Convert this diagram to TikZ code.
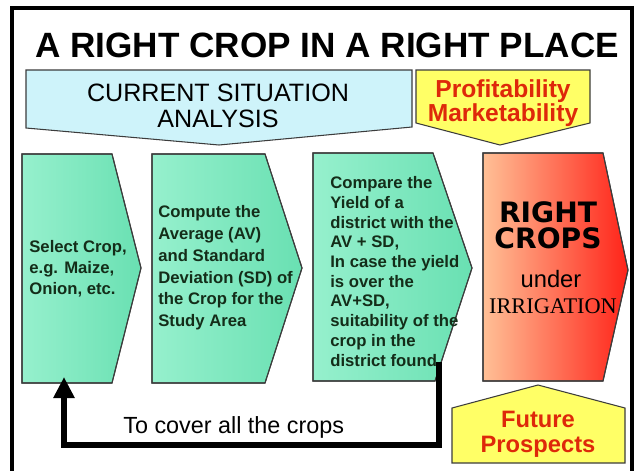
\documentclass[tikz,border=0pt]{standalone}
\usepackage{fontspec}
\setmainfont{Liberation Sans}
\newfontfamily\irrfont{Liberation Serif}
\newfontfamily\bigfont{DejaVu Sans}
\usetikzlibrary{arrows.meta}
\definecolor{bannercyan}{RGB}{206,243,250}
\definecolor{boxyellow}{RGB}{255,255,102}
\definecolor{proftext}{RGB}{222,40,10}
\definecolor{mintlight}{RGB}{150,240,205}
\definecolor{mintdark}{RGB}{105,224,178}
\definecolor{peach}{RGB}{255,192,150}
\definecolor{hotred}{RGB}{255,35,25}
\definecolor{steptext}{RGB}{20,45,25}
\definecolor{edgegray}{RGB}{60,60,60}

\begin{document}
\begin{tikzpicture}[x=0.02cm,y=-0.02cm,
  shapeedge/.style={draw=edgegray,line width=0.6pt},
  greenstep/.style={shapeedge,left color=mintlight,right color=mintdark},
  steptxt/.style={anchor=west,align=left,inner sep=0pt,text=steptext,font=\fontsize{9.5}{#1}\selectfont\bfseries},
  yellowtxt/.style={align=center,inner sep=0pt,text=proftext,font=\fontsize{14}{#1}\selectfont\bfseries},
  loopline/.style={line width=3.4pt,-{Triangle[length=12pt,width=11.5pt]}}
]
\clip (0,0) rectangle (635,470); % picture size
\fill[white] (0,0) rectangle (635,470); % background
\draw[line width=2pt] (12,8) rectangle (632,480); % outer frame
\node[anchor=base,inner sep=0pt,font=\fontsize{20}{24}\selectfont\bfseries] (title) at (327,57) {A RIGHT CROP IN A RIGHT PLACE}; % heading
\filldraw[shapeedge,fill=bannercyan] (26,70) -- (412,70) -- (412,127) -- (219,145) -- (26,128) -- cycle; % analysis banner
\node[align=center,inner sep=0pt,font=\fontsize{14.3}{14.7}\selectfont] (analysis) at (218,106) {CURRENT SITUATION\\ANALYSIS};
\filldraw[shapeedge,fill=boxyellow] (416,70) -- (590,70) -- (590,123) -- (500,145) -- (416,123) -- cycle; % profit banner
\node[yellowtxt=12.5] (profit) at (503,103) {Profitability\\Marketability};
\shade[greenstep] (22,154) -- (112,154) -- (141,268) -- (112,383) -- (22,383) -- cycle; % step 1
\draw[shapeedge] (22,154) -- (112,154) -- (141,268) -- (112,383) -- (22,383) -- cycle;
\node[steptxt=11.9] (select) at (29,268.5) {Select Crop,\\e.g. Maize,\\Onion, etc.};
\shade[greenstep] (152,154) -- (265,154) -- (302,268) -- (265,383) -- (152,383) -- cycle; % step 2
\draw[shapeedge] (152,154) -- (265,154) -- (302,268) -- (265,383) -- (152,383) -- cycle;
\node[steptxt=12.4] (compute) at (158,268) {Compute the\\Average (AV)\\and Standard\\Deviation (SD) of\\the Crop for the\\Study Area};
\shade[greenstep] (313,153) -- (433,153) -- (472,268) -- (435,381) -- (313,381) -- cycle; % step 3
\draw[shapeedge] (313,153) -- (433,153) -- (472,268) -- (435,381) -- (313,381) -- cycle;
\node[steptxt=11.2] (compare) at (330,271.5) {Compare the\\Yield of a\\district with the\\AV + SD,\\In case the yield\\is over the\\AV+SD,\\suitability of the\\crop in the\\district found};
\shade[shapeedge,left color=peach,right color=hotred] (483,153) -- (603,153) -- (628,270) -- (603,381) -- (483,381) -- cycle; % result
\draw[shapeedge] (483,153) -- (603,153) -- (628,270) -- (603,381) -- (483,381) -- cycle;
\node[anchor=base,inner sep=0pt,font=\bigfont\fontsize{16}{18}\selectfont\bfseries] (rightword) at (548,222) {RIGHT};
\node[anchor=base,inner sep=0pt,font=\bigfont\fontsize{16}{18}\selectfont\bfseries] (cropsword) at (548,248) {CROPS};
\node[anchor=base,inner sep=0pt,font=\fontsize{13.5}{15}\selectfont] (underword) at (551,287) {under};
\node[anchor=base,inner sep=0pt,font=\irrfont\fontsize{12.7}{15}\selectfont] (irrigword) at (553,313) {IRRIGATION};
\filldraw[shapeedge,fill=boxyellow] (452,408) -- (538,385) -- (625,408) -- (625,463) -- (452,463) -- cycle; % future banner
\node[yellowtxt=14.2,font=\fontsize{13.5}{14.2}\selectfont\bfseries] (future) at (538,434) {Future\\Prospects};
\coordinate (loopstart) at (439,362); % below step 3
\coordinate (loopend) at (64,377); % below step 1
\draw[loopline] (loopstart) -- ++(0,83) -| (loopend); % back to the first step
\node[anchor=base west,inner sep=0pt,font=\fontsize{13.3}{15}\selectfont] (cover) at (123,433) {To cover all the crops};
\end{tikzpicture}
\end{document}
